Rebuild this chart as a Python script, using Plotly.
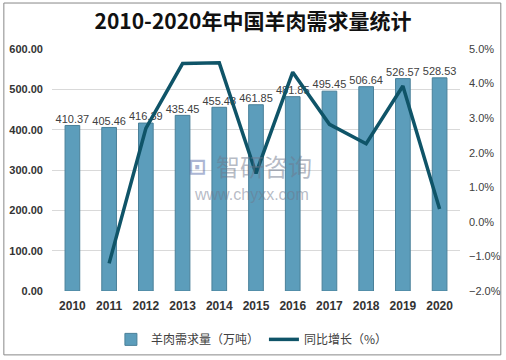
import plotly.graph_objects as go

years = ["2010", "2011", "2012", "2013", "2014", "2015", "2016", "2017", "2018", "2019", "2020"]
demand = [410.37, 405.46, 416.39, 435.45, 455.48, 461.85, 481.85, 495.45, 506.64, 526.57, 528.53]
growth_years = ["2011", "2012", "2013", "2014", "2015", "2016", "2017", "2018", "2019", "2020"]
growth = [-1.20, 2.70, 4.58, 4.60, 1.40, 4.33, 2.82, 2.26, 3.93, 0.37]

fig = go.Figure()
fig.add_trace(go.Bar(
    x=years, y=demand, name="羊肉需求量（万吨）",
    marker=dict(color="#5c9dbb", line=dict(color="#4a8099", width=1)),
))
fig.add_trace(go.Scatter(
    x=years, y=demand, mode="text", showlegend=False, hoverinfo="skip",
    text=[f"{v:.2f}" for v in demand], textposition="top center",
    textfont=dict(size=11, color="#404040", family="Liberation Sans"),
    cliponaxis=False,
))
fig.add_trace(go.Scatter(
    x=growth_years, y=growth, name="同比增长（%）", yaxis="y2",
    mode="lines", line=dict(color="#0f5468", width=3.5),
))

wm = "rgba(110,120,140,0.5)"
fig.add_annotation(text="智研咨询", x=0.52, y=0.52, xref="paper", yref="paper",
                   showarrow=False, font=dict(size=24, color=wm, family="Noto Sans CJK SC"))
fig.add_annotation(text="<b>⊡</b>", x=0.355, y=0.515, xref="paper", yref="paper",
                   showarrow=False, font=dict(size=22, color="rgba(90,110,170,0.5)", family="DejaVu Sans"))
fig.add_annotation(text="www.chyxx.com", x=0.49, y=0.40, xref="paper", yref="paper",
                   showarrow=False, font=dict(size=16, color=wm, family="Liberation Sans"))

fig.update_layout(
    width=506, height=360,
    paper_bgcolor="white", plot_bgcolor="white",
    margin=dict(l=52, r=46, t=49, b=69, autoexpand=False),
    title=dict(text="<b>2010-2020年中国羊肉需求量统计</b>", x=0.5, xanchor="center", y=0.94, yanchor="middle",
               font=dict(size=21, color="#111111", family="Noto Sans CJK SC")),
    bargap=0.6,
    showlegend=True,
    legend=dict(orientation="h", x=0.49, xanchor="center", y=-0.14, yanchor="top",
                font=dict(size=12, color="#404040", family="Noto Sans CJK SC")),
    xaxis=dict(showgrid=False, showline=False, ticks="", ticklabelstandoff=6,
               tickfont=dict(size=12, color="#333333", family="Liberation Sans"),
               tickprefix="<b>", ticksuffix="</b>"),
    yaxis=dict(range=[0, 600], dtick=100, tickformat=".2f", showgrid=True, gridcolor="#d9d9d9",
               zeroline=False, showline=False, ticklabelstandoff=8,
               tickfont=dict(size=11, color="#333333", family="Liberation Sans"),
               tickprefix="<b>", ticksuffix="</b>"),
    yaxis2=dict(range=[-2, 5], dtick=1, tickformat=".1f", ticksuffix="%", overlaying="y", side="right",
                showgrid=False, zeroline=False, showline=False, ticklabelstandoff=8,
                tickfont=dict(size=11, color="#404040", family="Liberation Sans")),
    shapes=[dict(type="rect", xref="paper", yref="paper", x0=-0.118, x1=1.100, y0=-0.264, y1=1.19,
                 line=dict(color="#888888", width=1))],
)

fig.write_html("out.html", config={"displayModeBar": False},
               post_script="document.body.style.margin='0';document.body.style.padding='0';")
